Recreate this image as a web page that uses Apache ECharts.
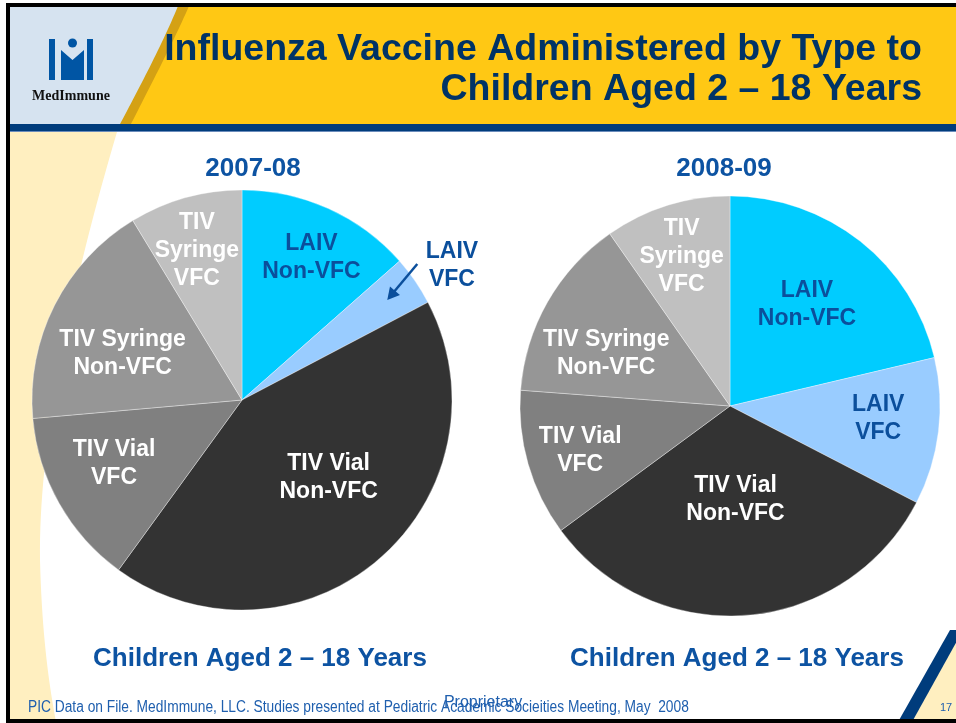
<!DOCTYPE html>
<html><head><meta charset="utf-8">
<script src="https://cdn.jsdelivr.net/npm/echarts@6/dist/echarts.min.js"></script>
<style>html,body{margin:0;padding:0;background:#fff}#c{width:956px;height:723px}</style>
</head><body><div id="c"></div>
<script>
// ---- data ----
const categories = ['LAIV Non-VFC', 'LAIV VFC', 'TIV Vial Non-VFC', 'TIV Vial VFC', 'TIV Syringe Non-VFC', 'TIV Syringe VFC'];
const sliceLabels = ['LAIV\nNon-VFC', 'LAIV\nVFC', 'TIV Vial\nNon-VFC', 'TIV Vial\nVFC', 'TIV Syringe\nNon-VFC', 'TIV\nSyringe\nVFC'];
const values2007 = [13.5, 3.8, 42.7, 13.6, 17.7, 8.7];
const values2008 = [21.3, 11.3, 32.3, 11.3, 14.1, 9.7];
const pieTitles = ['2007-08', '2008-09'];
const pieSubtitle = 'Children Aged 2 – 18 Years';
const mainTitle = 'Influenza Vaccine Administered by Type to\nChildren Aged 2 – 18 Years';
const footerText = 'PIC Data on File. MedImmune, LLC. Studies presented at Pediatric Academic Socieities Meeting, May  2008';

// ---- styles / layout ----
const FONT = '"Liberation Sans", Arial, Helvetica, sans-serif';
const sliceColors = ['#00CCFF', '#99CCFF', '#333333', '#808080', '#969696', '#C0C0C0'];
const labelColors = ['#0B4F9C', '#0B4F9C', '#FFFFFF', '#FFFFFF', '#FFFFFF', '#FFFFFF'];
const blueText = '#0D53A2';
const offsets2007 = [[25, -44], [121, -73], [16, -4], [-34, 10], [-23, 2], [-16, -45]];
const offsets2008 = [[10, -17], [41, -1], [-3, -14], [-46, 15], [-30, 1], [-16, -46]];
const R = 210;
const center2007 = [242, 400];
const center2008 = [730, 406];

function pieSeries(values, center, offs) {
  return {
    type: 'pie', center: center, radius: R, startAngle: 90, clockwise: true,
    avoidLabelOverlap: false, animation: false, silent: true,
    itemStyle: { borderColor: 'rgba(255,255,255,0.35)', borderWidth: 1 },
    label: {
      show: true, position: 'inside', fontFamily: FONT, fontWeight: 'bold',
      fontSize: 23, lineHeight: 28,
      formatter: p => sliceLabels[p.dataIndex]
    },
    labelLine: { show: false },
    labelLayout: p => {
      const o = offs[p.dataIndex];
      return { dx: o[0], dy: o[1] };
    },
    data: values.map((v, i) => ({ name: categories[i], value: v,
      itemStyle: { color: sliceColors[i] }, label: { color: labelColors[i] } }))
  };
}

// callout arrow for the small LAIV VFC slice (2007-08), placed at its mid-angle
const total07 = values2007.reduce((a, b) => a + b, 0);
const midDeg = (values2007[0] + values2007[1] / 2) / total07 * 360;
const midRad = midDeg * Math.PI / 180;
const head = [center2007[0] + R * 0.84 * Math.sin(midRad), center2007[1] - R * 0.84 * Math.cos(midRad)];
const tail = [head[0] + 30, head[1] - 36];
const len = Math.hypot(head[0] - tail[0], head[1] - tail[1]);
const u = [(head[0] - tail[0]) / len, (head[1] - tail[1]) / len];
const nrm = [-u[1], u[0]];
const ahL = 12, ahW = 6.5;
const arrowHead = [head,
  [head[0] - u[0] * ahL + nrm[0] * ahW, head[1] - u[1] * ahL + nrm[1] * ahW],
  [head[0] - u[0] * ahL - nrm[0] * ahW, head[1] - u[1] * ahL - nrm[1] * ahW]];

// decorative curve helper (cubic bezier sampled to points)
function bez(p0, p1, p2, p3, n) {
  const pts = [];
  for (let k = 0; k <= n; k++) {
    const t = k / n, w = 1 - t;
    pts.push([
      w*w*w*p0[0] + 3*w*w*t*p1[0] + 3*w*t*t*p2[0] + t*t*t*p3[0],
      w*w*w*p0[1] + 3*w*w*t*p1[1] + 3*w*t*t*p2[1] + t*t*t*p3[1]
    ]);
  }
  return pts;
}
const goldPts = bez([178, 6], [162, 45], [138, 90], [119, 126], 30).concat([[960, 126], [960, 6]]);
const yellowPts = bez([189, 6], [172, 45], [148, 90], [130, 126], 30).concat([[960, 126], [960, 6]]);
const creamPts = [[8, 132]].concat(
  bez([117, 132], [85, 240], [38, 420], [40, 560], 40),
  bez([40, 560], [42, 640], [50, 690], [56, 722], 20),
  [[8, 722]]);

const graphics = [
  { type: 'rect', shape: { x: 8, y: 6, width: 960, height: 120 }, style: { fill: '#D6E3F0' } },
  { type: 'polygon', shape: { points: goldPts }, style: { fill: '#D4A114' } },
  { type: 'polygon', shape: { points: yellowPts }, style: { fill: '#FFC814' } },
  { type: 'rect', shape: { x: 8, y: 124, width: 960, height: 7 }, style: { fill: '#003C7C' } },
  { type: 'rect', shape: { x: 8, y: 131, width: 960, height: 1 }, style: { fill: '#6B8CBB' } },
  { type: 'polygon', shape: { points: creamPts }, style: { fill: '#FFEFC0' } },
  { type: 'polygon', shape: { points: [[962, 630], [962, 722], [910, 722]] }, style: { fill: '#FFEFC0' } },
  { type: 'polygon', shape: { points: [[950, 630], [963, 630], [912, 722], [898, 722]] }, style: { fill: '#003C7C' } },
  { type: 'rect', shape: { x: 6, y: 3, width: 960, height: 4 }, style: { fill: '#000' } },
  { type: 'rect', shape: { x: 6, y: 3, width: 4, height: 720 }, style: { fill: '#000' } },
  { type: 'rect', shape: { x: 6, y: 719, width: 960, height: 4 }, style: { fill: '#000' } },
  { type: 'rect', shape: { x: 49, y: 39, width: 6, height: 41 }, style: { fill: '#0055A4' } },
  { type: 'rect', shape: { x: 87, y: 39, width: 6, height: 41 }, style: { fill: '#0055A4' } },
  { type: 'circle', shape: { cx: 72.5, cy: 43, r: 4.5 }, style: { fill: '#0055A4' } },
  { type: 'polygon', shape: { points: [[61, 50], [72.5, 60], [84, 50], [84, 80], [61, 80]] }, style: { fill: '#0055A4' } },
  { type: 'text', x: 71, y: 96, style: { text: 'MedImmune', font: 'bold 14px "Liberation Serif", serif', fill: '#111', align: 'center', verticalAlign: 'middle' } },
  { type: 'text', x: 922, y: 30, style: { text: mainTitle, font: 'bold 37.5px ' + FONT, fill: '#003366', align: 'right', verticalAlign: 'top', lineHeight: 40 } },
  { type: 'text', x: 253, y: 169, style: { text: pieTitles[0], font: 'bold 26px ' + FONT, fill: blueText, align: 'center', verticalAlign: 'middle' } },
  { type: 'text', x: 724, y: 169, style: { text: pieTitles[1], font: 'bold 26px ' + FONT, fill: blueText, align: 'center', verticalAlign: 'middle' } },
  { type: 'text', x: 260, y: 659, style: { text: pieSubtitle, font: 'bold 26px ' + FONT, fill: blueText, align: 'center', verticalAlign: 'middle' } },
  { type: 'text', x: 737, y: 659, style: { text: pieSubtitle, font: 'bold 26px ' + FONT, fill: blueText, align: 'center', verticalAlign: 'middle' } },
  { type: 'text', x: 28, y: 708, scaleX: 0.86, style: { text: footerText, font: '16px ' + FONT, fill: '#1F5FAE', align: 'left', verticalAlign: 'middle' } },
  { type: 'text', x: 483, y: 703, style: { text: 'Proprietary', font: '16px ' + FONT, fill: '#1F5FAE', align: 'center', verticalAlign: 'middle' } },
  { type: 'text', x: 946, y: 708, style: { text: '17', font: '11px ' + FONT, fill: '#1F5FAE', align: 'center', verticalAlign: 'middle' } },
  // callout arrow (drawn above the pie)
  { type: 'line', z: 100, shape: { x1: tail[0], y1: tail[1], x2: head[0] - u[0] * 8, y2: head[1] - u[1] * 8 }, style: { stroke: '#0B4F9C', lineWidth: 2.5 } },
  { type: 'polygon', z: 100, shape: { points: arrowHead }, style: { fill: '#0B4F9C' } }
];

const chart = echarts.init(document.getElementById('c'), null, { renderer: 'canvas' });
chart.setOption({
  backgroundColor: '#FFFFFF',
  animation: false,
  graphic: { elements: graphics },
  series: [
    pieSeries(values2007, center2007, offsets2007),
    pieSeries(values2008, center2008, offsets2008)
  ]
});
</script></body></html>
